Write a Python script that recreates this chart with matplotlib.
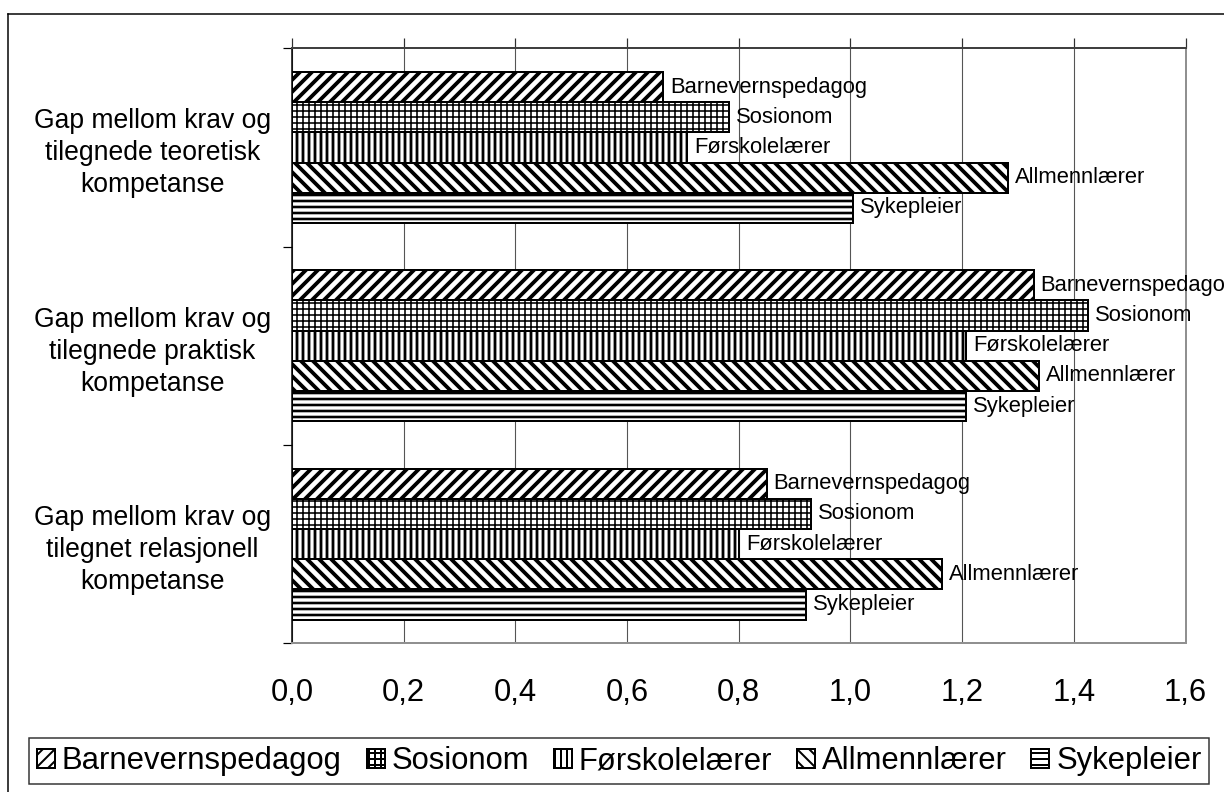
import matplotlib
matplotlib.use("Agg")
import matplotlib.pyplot as plt
from matplotlib.lines import Line2D
from matplotlib.ticker import FuncFormatter, FixedLocator

plt.rcParams['font.family'] = ['Liberation Sans', 'DejaVu Sans']
plt.rcParams['hatch.linewidth'] = 2.5

# categories (top to bottom)
categories = ["Gap mellom krav og\ntilegnede teoretisk\nkompetanse",
              "Gap mellom krav og\ntilegnede praktisk\nkompetanse",
              "Gap mellom krav og\ntilegnet relasjonell\nkompetanse"]

series_names = ["Barnevernspedagog", "Sosionom", "Førskolelærer", "Allmennlærer", "Sykepleier"]

barnevernspedagog = [0.664, 1.328, 0.850]
sosionom = [0.782, 1.425, 0.929]
forskolelaerer = [0.707, 1.207, 0.800]
allmennlaerer = [1.282, 1.337, 1.163]
sykepleier = [1.004, 1.207, 0.921]

x_ticks = [0.0, 0.2, 0.4, 0.6, 0.8, 1.0, 1.2, 1.4, 1.6]

values = [barnevernspedagog, sosionom, forskolelaerer, allmennlaerer, sykepleier]
hatches = ['//', '++', '||', '\\\\', '--']
hatch_lw = [3.8, 1.6, 2.8, 3.8, 2.6]

fig = plt.figure(figsize=(17, 11), dpi=72)
ax = fig.add_axes([0.2386, 0.1878, 0.9686 - 0.2386, 0.939 - 0.1878])


def set_hlw(patches, lw):
    # per-artist hatch linewidth if this matplotlib has it
    for p in patches:
        if hasattr(p, 'set_hatch_linewidth'):
            p.set_hatch_linewidth(lw)


h = 0.1523
legend_handles = []
for j, (name, vals, hatch) in enumerate(zip(series_names, values, hatches)):
    ys = [i + (j - 2) * h for i in range(len(categories))]
    bars = ax.barh(ys, vals, height=h, color='white', edgecolor='black',
                   linewidth=2, hatch=hatch, label=name, zorder=3)
    set_hlw(bars.patches, hatch_lw[j])
    legend_handles.append(bars)
    for y, v in zip(ys, vals):
        ax.annotate(name, xy=(v, y), xytext=(7, 0), textcoords='offset points',
                    ha='left', va='center', fontsize=22, zorder=5)

ax.set_xlim(0, 1.6)
ax.set_ylim(2.5, -0.5)

# x axis: tick marks on top, labels far below
ax.xaxis.set_major_locator(FixedLocator(x_ticks))
ax.xaxis.set_major_formatter(FuncFormatter(lambda v, p: ("%.1f" % v).replace('.', ',')))
ax.tick_params(axis='x', which='major', top=True, bottom=True, labeltop=False,
               labelbottom=True, direction='out', length=10, width=1.2,
               pad=25, labelsize=31, color='#303030')
for t in ax.xaxis.get_major_ticks():
    t.tick1line.set_visible(False)

# y axis: ticks at category boundaries, labels at centers
ax.yaxis.set_major_locator(FixedLocator([-0.5, 0.5, 1.5, 2.5]))
ax.yaxis.set_minor_locator(FixedLocator([0, 1, 2]))
ax.set_yticklabels([], minor=False)
ax.set_yticklabels(categories, minor=True)
ax.tick_params(axis='y', which='major', direction='out', length=9, width=1.2)
ax.tick_params(axis='y', which='minor', length=0, pad=21, labelsize=26.5)
for lab in ax.get_yticklabels(minor=True):
    lab.set_multialignment('center')
    lab.set_linespacing(1.3)

ax.grid(axis='x', color='#555555', linewidth=1.1, zorder=0)
ax.set_axisbelow(True)

ax.spines['top'].set_color('#404040')
ax.spines['top'].set_linewidth(2)
ax.spines['left'].set_color('black')
ax.spines['left'].set_linewidth(1.5)
ax.spines['right'].set_color('#909090')
ax.spines['right'].set_linewidth(2)
ax.spines['bottom'].set_color('#909090')
ax.spines['bottom'].set_linewidth(2)

leg = fig.legend(handles=legend_handles, labels=series_names, ncol=5,
                 loc='center', bbox_to_anchor=(0.506, 0.039),
                 fontsize=31, handlelength=0.58, handleheight=0.58,
                 handletextpad=0.22, columnspacing=0.8, borderpad=0.25,
                 borderaxespad=0, fancybox=False, frameon=True)
leg.get_frame().set_edgecolor('black')
leg.get_frame().set_linewidth(1.5)
for p in leg.get_patches():
    set_hlw([p], 2.0)

# outer chart border (left and top)
fig.add_artist(Line2D([0.0065, 0.0065], [0, 0.9823], transform=fig.transFigure,
                      color='black', linewidth=1.5))
fig.add_artist(Line2D([0.0065, 1.0], [0.9823, 0.9823], transform=fig.transFigure,
                      color='black', linewidth=1.5))

fig.savefig("out.png", dpi=72, facecolor='white')
